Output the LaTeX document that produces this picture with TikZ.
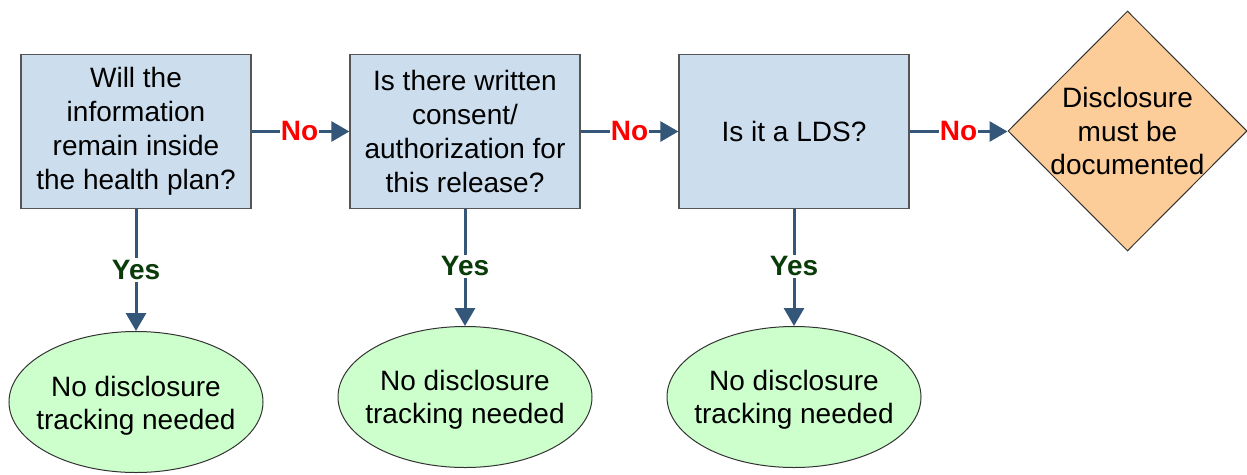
\documentclass[tikz,border=0pt]{standalone}
\usepackage{fontspec}
\setmainfont{Liberation Sans}
\usetikzlibrary{shapes.geometric,arrows.meta}
\definecolor{boxfill}{RGB}{204,222,238}
\definecolor{boxline}{RGB}{85,85,85}
\definecolor{dfill}{RGB}{252,204,153}
\definecolor{efill}{RGB}{204,255,204}
\definecolor{conn}{RGB}{52,86,120}
\definecolor{yesgreen}{RGB}{10,60,10}
\definecolor{nored}{RGB}{255,0,0}
\tikzset{
  qbox/.style={draw=boxline, line width=1.3pt, fill=boxfill, minimum width=230pt, minimum height=154pt, inner sep=0pt, align=center, font=\fontsize{28}{34}\selectfont},
  dshape/.style={draw=black!80, line width=1pt, fill=dfill, diamond, minimum width=239pt, minimum height=240pt, inner sep=0pt},
  eshape/.style={draw=black!80, line width=1pt, fill=efill, ellipse, minimum width=254pt, minimum height=141pt, inner sep=0pt},
  txt/.style={align=center, font=\fontsize{28}{33.5}\selectfont, inner sep=0pt},
  flow/.style={draw=conn, line width=3pt, -{Triangle[length=18pt,width=20pt]}},
  nolab/.style={font=\fontsize{28}{30}\selectfont\bfseries, text=nored, fill=white, inner sep=1pt},
  yeslab/.style={font=\fontsize{28}{30}\selectfont\bfseries, text=yesgreen, fill=white, inner sep=2pt},
}
\begin{document}
\begin{tikzpicture}[x=1pt,y=-1pt]
\useasboundingbox (0,0) rectangle (1247,474);
\node[qbox] (b1) at (136,131.5) {Will the\\information\\remain inside\\the health plan?};
\node[qbox] (b2) at (465,131.5) {Is there written\\consent/\\authorization for\\this release?};
\node[qbox] (b3) at (794,131.5) {Is it a LDS?};
\node[dshape] (d) at (1127.5,131) {};
\node[txt] (dt) at (1127.5,131) {Disclosure\\must be\\documented};
\node[eshape] (e1) at (136,402) {};
\node[txt] (e1t) at (136,406) {No disclosure\\tracking needed};
\node[eshape] (e2) at (465,397) {};
\node[txt] (e2t) at (465,400) {No disclosure\\tracking needed};
\node[eshape] (e3) at (794,397) {};
\node[txt] (e3t) at (794,400) {No disclosure\\tracking needed};
\draw[flow] (b1.east) -- node[nolab, xshift=-1pt] {No} (b2.west);
\draw[flow] (b2.east) -- node[nolab] {No} (b3.west);
\draw[flow] (b3.east) -- node[nolab] {No} (b3.east -| d.west);
\draw[flow] (b1.south) -- node[yeslab, pos=0.5] {Yes} (e1.north);
\draw[flow] (b2.south) -- node[yeslab, pos=0.49] {Yes} (e2.north);
\draw[flow] (b3.south) -- node[yeslab, pos=0.49] {Yes} (e3.north);
\end{tikzpicture}
\end{document}
